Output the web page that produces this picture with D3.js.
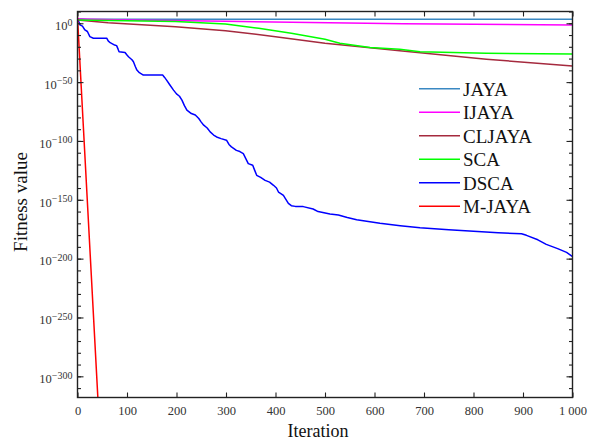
<!DOCTYPE html>
<html>
<head>
<meta charset="utf-8">
<script src="https://cdn.jsdelivr.net/npm/d3@7.9.0/dist/d3.min.js"></script>
<style>
  body { margin: 0; background: #fff; }
  svg { display: block; }
  svg text { font-family: "Liberation Serif", "DejaVu Serif", serif; }
</style>
</head>
<body>
<svg id="chart" width="592" height="441"></svg>
<script>
// series: [iteration, log10(fitness)]
const jaya = [[0, 3.8], [20, 3.4], [1000, 3.4]];
const ijaya = [[0, 3.6], [100, 2.8], [299, 1.7], [509, 0.5], [658, -0.5], [1000, -1.4]];
const cljaya = [[0, 2.8], [62, 0.5], [198, -2.9], [299, -6.3], [400, -11.4], [500, -17], [591, -20.7],
  [651, -23.3], [826, -30.6], [1000, -36.3]];
const sca = [[0, 2.8], [198, 1.4], [299, -0.6], [366, -4.3], [432, -8.5], [500, -13.6], [530, -17],
  [591, -20.5], [651, -22.1], [692, -24.1], [826, -25.5], [1000, -26.1]];
const dsca = [[0, 3], [3, 1], [5, -1.4], [10, -2.5], [15, -5.7], [20, -7], [25, -11.4], [32, -12.7], [59, -12.7],
  [62, -15], [66, -16.5], [75, -18.5], [79, -19], [82, -22], [84, -24.2], [96, -24.8], [100, -27], [103, -28.4],
  [110, -31], [113, -32.7], [117, -37], [120, -39.8], [125, -42], [133, -44], [172, -44], [176, -46], [180, -48.3],
  [186, -52], [194, -56.8], [200, -60], [206, -62], [211, -65.3], [216, -70], [221, -73.8], [230, -76.7], [238, -78],
  [245, -80.9], [250, -84], [255, -86.6], [262, -89], [268, -92.3], [275, -95], [281, -96.6], [290, -98], [301, -99.4],
  [306, -103], [311, -105], [321, -108], [328, -109], [335, -110.8], [340, -115], [345, -119.3], [354, -120.7],
  [358, -125], [362, -129.2], [370, -131], [379, -133.5], [388, -135], [396, -137.7], [402, -140], [406, -143.4],
  [410, -144.5], [416, -146.3], [420, -149], [426, -153], [432, -155], [440, -155.6], [456, -155.8], [476, -157.8],
  [486, -160], [510, -162], [527, -162.9], [545, -165], [564, -167], [611, -170], [652, -172], [692, -173.7],
  [750, -175.5], [800, -176.8], [850, -178], [897, -178.8], [907, -180.2], [930, -184], [947, -187.9],
  [970, -191.5], [988, -194.7], [1000, -198.2]];
const mjaya = [[0, 5], [21, -160], [42, -325]];

const names = ['JAYA', 'IJAYA', 'CLJAYA', 'SCA', 'DSCA', 'M-JAYA'];
const seriesData = [jaya, ijaya, cljaya, sca, dsca, mjaya];
const colors = ['#3a88c2', '#ff00ff', '#a52a3e', '#00ff00', '#0000ff', '#ff0000'];
const xTicks = [0, 100, 200, 300, 400, 500, 600, 700, 800, 900, 1000];
const yMajor = [0, -50, -100, -150, -200, -250, -300];
const yMinor = d3.range(10, -311, -10);

const serif = '"Liberation Serif", "DejaVu Serif", serif';
const svg = d3.select('#chart');
const m = { left: 77.5, right: 572.5, top: 11.5, bottom: 397.5 };

const x = d3.scaleLinear().domain([0, 1000]).range([m.left, m.right]);
const y = d3.scaleLinear().domain([-318, 10]).range([m.bottom, m.top]);

svg.append('defs').append('clipPath').attr('id', 'clip')
  .append('rect').attr('x', m.left).attr('y', m.top)
  .attr('width', m.right - m.left).attr('height', m.bottom - m.top);

// lines
const line = d3.line().x(d => x(d[0])).y(d => y(d[1]));
const plot = svg.append('g').attr('clip-path', 'url(#clip)');
seriesData.forEach((s, i) => {
  plot.append('path')
    .attr('d', line(s))
    .attr('fill', 'none')
    .attr('stroke', colors[i])
    .attr('stroke-width', 1.5)
    .attr('stroke-linejoin', 'round');
});

// axes
const fmt = d3.formatLocale({ decimal: '.', thousands: ' ', grouping: [3], currency: ['', ''] }).format(',');

const xAxis = svg.append('g').attr('transform', `translate(0,${m.bottom})`)
  .call(d3.axisBottom(x).tickValues(xTicks).tickSize(-5).tickPadding(9).tickFormat(fmt));
xAxis.attr('font-family', serif);
xAxis.selectAll('text').attr('font-size', 12.5).attr('fill', '#333');

svg.append('g').attr('transform', `translate(0,${m.top})`)
  .call(d3.axisTop(x).tickValues(xTicks).tickSize(-5).tickFormat(''));

const yAxis = svg.append('g').attr('transform', `translate(${m.left},0)`)
  .call(d3.axisLeft(y).tickValues(yMajor).tickSize(-6).tickPadding(5).tickFormat(''));
yAxis.attr('font-family', serif);
svg.append('g').attr('transform', `translate(${m.left},0)`)
  .call(d3.axisLeft(y).tickValues(yMinor).tickSize(-3.5).tickFormat(''));
svg.append('g').attr('transform', `translate(${m.right},0)`)
  .call(d3.axisRight(y).tickValues(yMajor).tickSize(-6).tickFormat(''));
svg.append('g').attr('transform', `translate(${m.right},0)`)
  .call(d3.axisRight(y).tickValues(yMinor).tickSize(-3.5).tickFormat(''));

yAxis.selectAll('.tick text').each(function (d) {
  const t = d3.select(this).attr('dy', '0.5em').attr('fill', '#333').attr('font-size', 12.5);
  t.append('tspan').text('10');
  t.append('tspan').attr('font-size', 10).attr('dy', -4.5)
    .text(d === 0 ? '0' : '\u2212' + Math.abs(d));
});

svg.selectAll('.domain').remove();
svg.selectAll('.tick line').attr('stroke', '#222').attr('stroke-width', 1.1);

svg.append('rect').attr('x', m.left).attr('y', m.top)
  .attr('width', m.right - m.left).attr('height', m.bottom - m.top)
  .attr('fill', 'none').attr('stroke', '#222').attr('stroke-width', 1.4);

// axis titles
svg.append('text').attr('x', 318).attr('y', 437).attr('text-anchor', 'middle')
  .attr('font-family', serif).attr('font-size', 18).attr('fill', '#111').text('Iteration');
svg.append('text').attr('transform', 'translate(27,202) rotate(-90)').attr('text-anchor', 'middle')
  .attr('font-family', serif).attr('font-size', 19).attr('fill', '#111').text('Fitness value');

// legend
const legend = svg.append('g').attr('font-family', serif);
names.forEach((n, i) => {
  const yy = 88.8 + i * 23.5;
  legend.append('line').attr('x1', 419).attr('x2', 460).attr('y1', yy).attr('y2', yy)
    .attr('stroke', colors[i]).attr('stroke-width', 1.5);
  legend.append('text').attr('x', 463).attr('y', yy + 6.7)
    .attr('font-size', 19).attr('fill', '#111').text(n);
});
</script>
</body>
</html>
